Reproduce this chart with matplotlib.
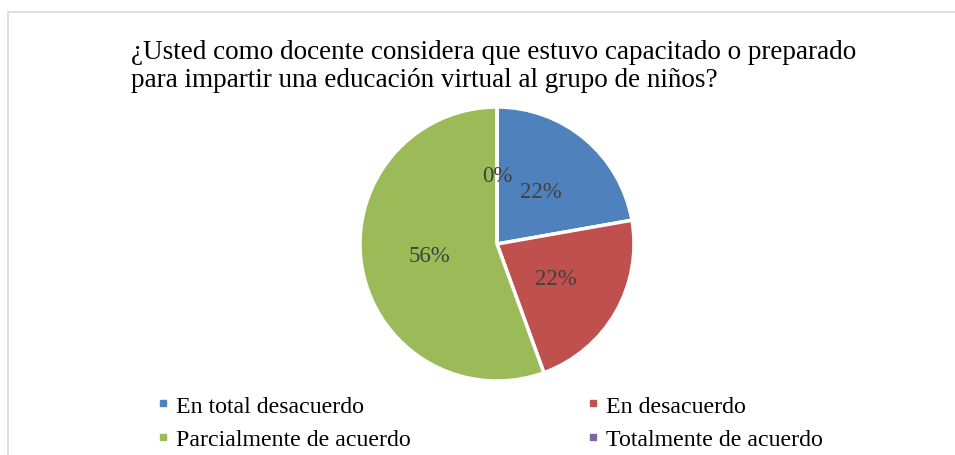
import matplotlib
matplotlib.use('Agg')
import matplotlib.pyplot as plt
from matplotlib.patches import Rectangle
from matplotlib.lines import Line2D

plt.rcParams['font.family'] = ['Liberation Serif', 'DejaVu Serif']

categories = ['En total desacuerdo', 'En desacuerdo',
              'Parcialmente de acuerdo', 'Totalmente de acuerdo']
counts = [2, 2, 5, 0]
colors = ['#4F81BD', '#C0504D', '#9BBB59', '#8064A2']
title = ('¿Usted como docente considera que estuvo capacitado o preparado\n'
         'para impartir una educación virtual al grupo de niños?')

W, H = 955, 456
fig = plt.figure(figsize=(W / 100, H / 100), dpi=100)

# light gray frame (runs off the right and bottom edges)
fig.patches.append(Rectangle((8 / W, -0.1), 1.1, 1 - 12.5 / H + 0.1,
                             transform=fig.transFigure, fill=False,
                             edgecolor='#D9D9D9', linewidth=1.2))

fig.text(131 / W, 1 - 40 / H, title, ha='left', va='top', fontsize=19.5,
         linespacing=1.16, color='black')

cx, cy, r = 497, 245, 137
ax = fig.add_axes([(cx - r) / W, 1 - (cy + r) / H, 2 * r / W, 2 * r / H])
wedges, texts, autotexts = ax.pie(
    counts, colors=colors, startangle=90, counterclock=False,
    autopct='%1.0f%%', pctdistance=0.5,
    wedgeprops=dict(edgecolor='white', linewidth=2.5),
    textprops=dict(fontsize=16.5, color='#404040'))
ax.set_xlim(-1, 1)
ax.set_ylim(-1, 1)
ax.set_aspect('equal')

# legend is filled row by row in the reference
order = [0, 2, 1, 3]
handles = [Line2D([], [], marker='s', linestyle='none', markersize=4.8,
                  markerfacecolor=colors[i], markeredgecolor=colors[i])
           for i in order]
fig.legend(handles, [categories[i] for i in order], ncol=2, loc='upper left',
           bbox_to_anchor=(144 / W, 1 - 384 / H), frameon=False,
           fontsize=17.2, handlelength=0.6, handletextpad=0.25,
           columnspacing=7.3, labelspacing=0.5, borderpad=0)

fig.savefig('out.png', dpi=100)
